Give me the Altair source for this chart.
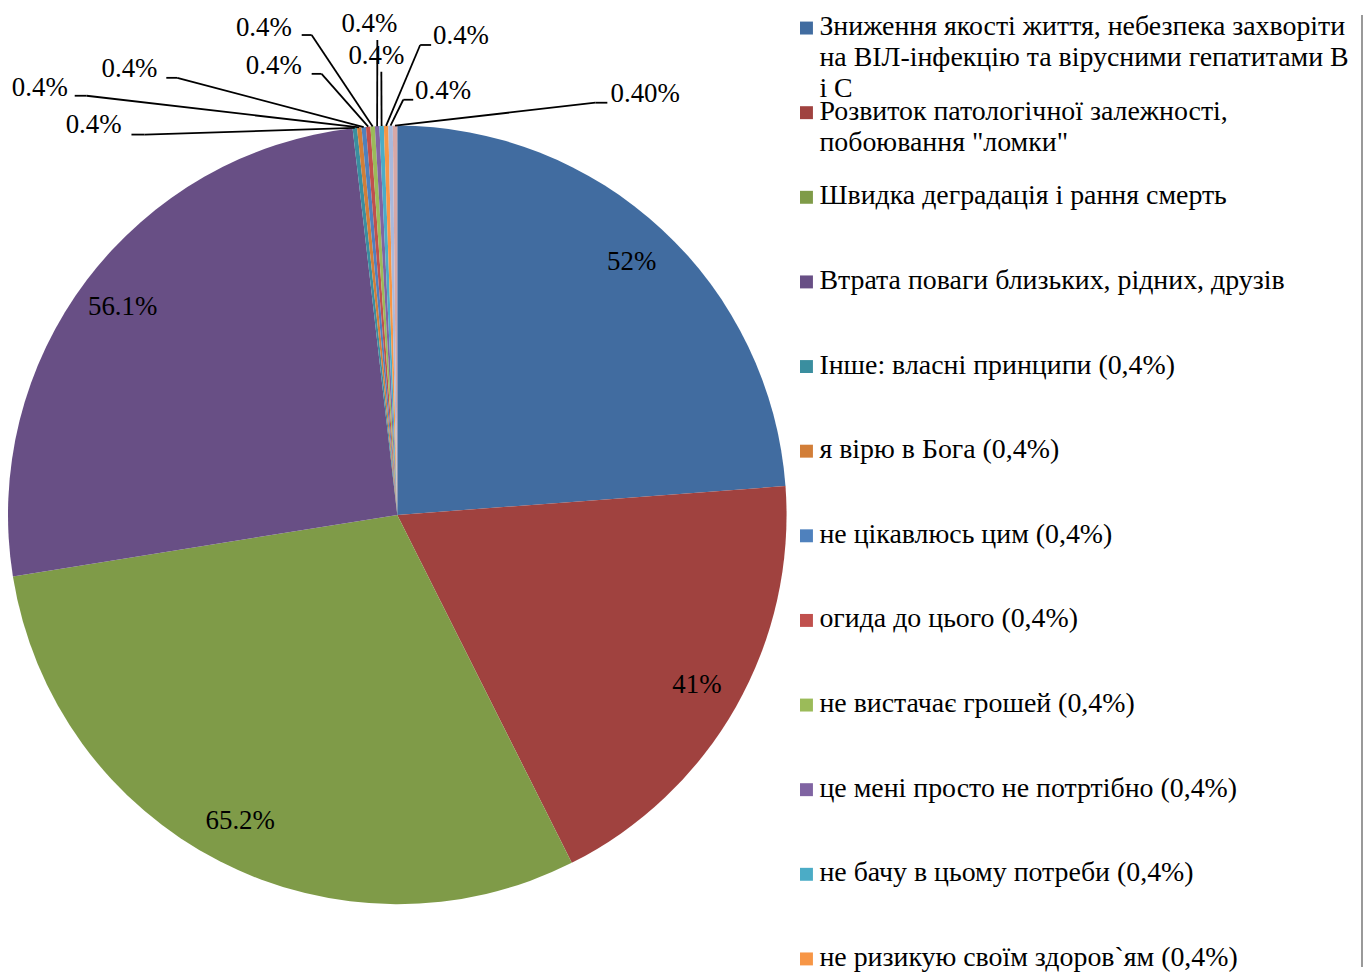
import altair as alt
import pandas as pd

# ---------------- data ----------------
names = [
    "Зниження якості життя, небезпека захворіти на ВІЛ-інфекцію та вірусними гепатитами В і С",
    "Розвиток патологічної залежності, побоювання \"ломки\"",
    "Швидка деградація і рання смерть",
    "Втрата поваги близьких, рідних, друзів",
    "Інше: власні принципи (0,4%)",
    "я вірю в Бога (0,4%)",
    "не цікавлюсь цим (0,4%)",
    "огида до цього (0,4%)",
    "не вистачає грошей (0,4%)",
    "це мені просто не потртібно (0,4%)",
    "не бачу в цьому потреби (0,4%)",
    "не ризикую своїм здоров`ям (0,4%)",
    "категорія 13",
    "категорія 14",
]
legend_text = [
    "Зниження якості життя, небезпека захворіти\nна ВІЛ-інфекцію та вірусними гепатитами В\nі С",
    "Розвиток патологічної залежності,\nпобоювання \"ломки\"",
    "Швидка деградація і рання смерть",
    "Втрата поваги близьких, рідних, друзів",
    "Інше: власні принципи (0,4%)",
    "я вірю в Бога (0,4%)",
    "не цікавлюсь цим (0,4%)",
    "огида до цього (0,4%)",
    "не вистачає грошей (0,4%)",
    "це мені просто не потртібно (0,4%)",
    "не бачу в цьому потреби (0,4%)",
    "не ризикую своїм здоров`ям (0,4%)",
    "",
    "",
]
values = [52, 41, 65.2, 56.1, 0.4, 0.4, 0.4, 0.4, 0.4, 0.4, 0.4, 0.4, 0.4, 0.4]
labels = ["52%", "41%", "65.2%", "56.1%", "0.4%", "0.4%", "0.4%", "0.4%",
          "0.4%", "0.4%", "0.4%", "0.4%", "0.4%", "0.40%"]
colors = ["#416CA0", "#A0423F", "#7F9B48", "#684F85", "#3A8E9F", "#D27E38",
          "#4F81BD", "#C0504D", "#9BBB59", "#8064A2", "#4BACC6", "#F79646",
          "#A9B9DC", "#D7A8A7"]
legend_rows = 12  # entries visible in the legend area

# ---------------- layout (pixels, chart coordinates) ----------------
CX, CY, R = 391, 502, 391
LABEL_R = 346
FONT = "Liberation Serif"
FS = 27
LEG_FS = 28

# manually placed callouts for the small slices (label centre, elbow, tail)
call_idx = [4, 5, 6, 7, 8, 9, 10, 11, 12, 13]
call_lx = [86, 32, 122, 267, 257, 363, 370, 455, 437, 640]
call_ly = [110, 73, 54, 51, 13, 9, 41, 21, 76, 79]
call_ex = [137, 79, 170, 315, 305, 371, 375, 414, 397, 590]
call_ey = [120, 81, 63, 59, 20, 25, 57, 30, 85, 88]
call_tx = [124, 67, 159, 305, 295, 371, 375, 425, 407, 602]

df = pd.DataFrame({
    "idx": list(range(len(names))),
    "name": names,
    "value": values,
    "label": labels,
    "legend": legend_text,
})
df["inner"] = [l if i < 4 else "" for i, l in zip(df["idx"], df["label"])]
calls = pd.DataFrame({"idx": call_idx, "lx": call_lx, "ly": call_ly,
                      "ex": call_ex, "ey": call_ey, "tx": call_tx})
df = df.merge(calls, on="idx", how="left")

color_scale = alt.Scale(domain=names, range=colors)

base = alt.Chart(df)

pie = base.mark_arc(radius=R, stroke=None).encode(
    theta=alt.Theta("value:Q", stack=True),
    color=alt.Color("name:N", scale=color_scale, legend=None),
    order=alt.Order("idx:Q"),
    x=alt.value(CX),
    y=alt.value(CY),
)

inner_text = base.mark_text(radius=LABEL_R, font=FONT, fontSize=FS, color="black").encode(
    theta=alt.Theta("value:Q", stack=True),
    order=alt.Order("idx:Q"),
    text="inner:N",
    x=alt.value(CX),
    y=alt.value(CY),
)

small = (
    base.transform_joinaggregate(total="sum(value)")
    .transform_window(cum="sum(value)", sort=[alt.SortField("idx")], frame=[None, 0])
    .transform_calculate(
        a="2*PI*(datum.cum - datum.value/2)/datum.total",
    )
    .transform_calculate(
        sx=f"{CX} + {R}*sin(datum.a)",
        sy=f"{CY} - {R}*cos(datum.a)",
    )
    .transform_filter("datum.idx >= 4")
)

lead1 = small.mark_rule(color="black", strokeWidth=1.8).encode(
    x=alt.X("sx:Q", scale=None), y=alt.Y("sy:Q", scale=None),
    x2="ex:Q", y2="ey:Q",
)
lead2 = small.mark_rule(color="black", strokeWidth=1.8).encode(
    x=alt.X("ex:Q", scale=None), x2="tx:Q", y=alt.Y("ey:Q", scale=None),
)
call_text = small.mark_text(font=FONT, fontSize=FS, color="black",
                            align="center", baseline="middle").encode(
    x=alt.X("lx:Q", scale=None), y=alt.Y("ly:Q", scale=None), text="label:N",
)

leg_base = base.transform_filter(f"datum.idx < {legend_rows}")
leg_y = alt.Y("idx:Q", scale=alt.Scale(domain=[0, legend_rows - 1], range=[13, 948]), axis=None)
leg_sym = leg_base.mark_square(size=169, opacity=1).encode(
    x=alt.value(802), y=leg_y,
    color=alt.Color("name:N", scale=color_scale, legend=None),
)
leg_txt = leg_base.mark_text(font=FONT, fontSize=LEG_FS, color="black", align="left",
                             baseline="alphabetic", dy=7, lineBreak="\n",
                             lineHeight=31).encode(
    x=alt.value(815), y=leg_y, text="legend:N",
)

border = alt.Chart(df).mark_rule(color="#9A9A9A", strokeWidth=2).encode(
    x=alt.value(1360), y=alt.value(0), y2=alt.value(956)
)

chart = (
    alt.layer(pie, inner_text, lead1, lead2, call_text, leg_sym, leg_txt, border)
    .resolve_scale(x="independent", y="independent")
    .properties(width=1355, height=956, padding=0)
    .configure_view(stroke=None)
)

chart.save("out.html", embed_options={"renderer": "svg", "actions": False})
